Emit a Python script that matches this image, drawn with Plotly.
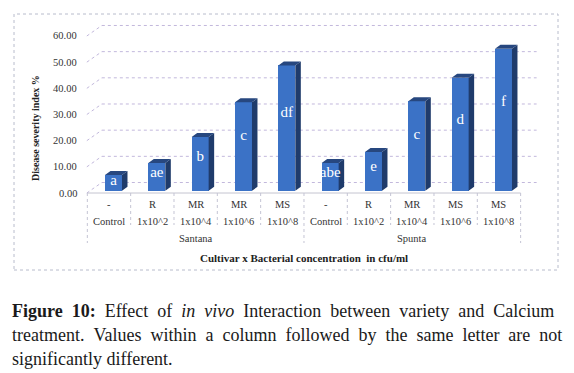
import plotly.graph_objects as go

# ---------------- data ----------------
groups = ["Santana", "Spunta"]
group_size = [5, 5]
resistance = ["-", "R", "MR", "MR", "MS", "-", "R", "MR", "MS", "MS"]
concentration = ["Control", "1x10^2", "1x10^4", "1x10^6", "1x10^8",
                 "Control", "1x10^2", "1x10^4", "1x10^6", "1x10^8"]
severity = [6.0, 10.6, 20.6, 33.8, 47.9, 10.6, 14.8, 34.2, 43.2, 54.3]
letters = ["a", "ae", "b", "c", "df", "abe", "e", "c", "d", "f"]
y_ticks = [0, 10, 20, 30, 40, 50, 60]
y_title = "Disease severity index %"
x_title = "Cultivar x Bacterial concentration  in cfu/ml"
caption_lines = [
    "<b>Figure 10:</b> Effect of <i>in vivo</i> Interaction between variety and Calcium",
    "treatment. Values within a column followed by the same letter are not",
    "significantly different.",
]
caption_justify = [True, True, False]

# ---------------- geometry (screen pixels) ----------------
SW, SH = 574, 373            # browser window
PAGE = 8                     # default page margin around the figure
W, H = SW - PAGE, SH - PAGE  # figure size
X0, CW = 87.33, 43.33        # left edge of first category, category width
Y0, PU = 193.0, 2.617        # front zero line, px per unit
DXB, DYB = 14.5, -10.5       # back-wall offset
DXBAR, DYBAR = 4.5, -2.2     # bar depth offset
BARW = 17.0                  # front face width
SDX, SDY = 5.5, -4.0         # side/top depth
n = len(severity)


def px2x(px):
    return (px - X0) / CW - 0.5


def py2y(py):
    return (Y0 - py) / PU


def pxp(px):
    return (px - PAGE) / W


def pyp(py):
    return (H - (py - PAGE)) / H


FONT = "Liberation Serif, Tinos, Times New Roman, DejaVu Serif, serif"
GRID = "#c2b8dc"

fig = go.Figure()

off = DXBAR / CW
bw = BARW / CW
base = -DYBAR / PU
sdx = SDX / CW
sdy = -SDY / PU

fig.add_trace(go.Bar(
    x=list(range(n)), y=severity, base=[base] * n,
    width=bw, offset=off - bw / 2,
    marker=dict(color="#3b72c6", line=dict(width=0)),
    hoverinfo="skip", showlegend=False,
))

side_x, side_y, top_x, top_y = [], [], [], []
for i, v in enumerate(severity):
    xl = i + off - bw / 2
    xr = i + off + bw / 2
    side_x += [xr, xr + sdx, xr + sdx, xr, xr, None]
    side_y += [base, base + sdy, base + v + sdy, base + v, base, None]
    top_x += [xl, xr, xr + sdx, xl + sdx, xl, None]
    top_y += [base + v, base + v, base + v + sdy, base + v + sdy, base + v, None]

fig.add_trace(go.Scatter(x=side_x, y=side_y, mode="lines", fill="toself",
                         fillcolor="#1f3b6b", line=dict(width=0, color="#1f3b6b"),
                         hoverinfo="skip", showlegend=False))
fig.add_trace(go.Scatter(x=top_x, y=top_y, mode="lines", fill="toself",
                         fillcolor="#27477f", line=dict(width=0, color="#27477f"),
                         hoverinfo="skip", showlegend=False))

fig.add_trace(go.Scatter(
    x=[i + off for i in range(n)],
    y=[base + 0.62 * v for v in severity],
    mode="text", text=letters,
    textfont=dict(family=FONT, size=15, color="white"),
    hoverinfo="skip", showlegend=False,
))

shapes = []
for t in y_ticks:
    yf = Y0 - t * PU
    shapes.append(dict(type="line", xref="x", yref="y", layer="below",
                       x0=px2x(X0 + DXB), x1=px2x(X0 + 10 * CW + DXB + 1.5),
                       y0=py2y(yf + DYB), y1=py2y(yf + DYB),
                       line=dict(color=GRID, width=1, dash="dot")))
    shapes.append(dict(type="line", xref="x", yref="y", layer="below",
                       x0=px2x(X0 - 0.5), x1=px2x(X0 + DXB),
                       y0=py2y(yf), y1=py2y(yf + DYB),
                       line=dict(color=GRID, width=1, dash="dot")))
shapes.append(dict(type="line", xref="x", yref="y", layer="below",
                   x0=-0.5, x1=n - 0.5, y0=0, y1=0,
                   line=dict(color="#c4c4d0", width=1)))
edges = [0]
for g in group_size:
    edges.append(edges[-1] + g)
for k in range(n + 1):
    bottom = 243 if k in edges else 225
    shapes.append(dict(type="line", xref="x", yref="y", layer="below",
                       x0=k - 0.5, x1=k - 0.5, y0=0, y1=py2y(bottom),
                       line=dict(color="#c4c4d4", width=1, dash="dot")))
shapes.append(dict(type="rect", xref="paper", yref="paper", layer="below",
                   x0=pxp(14), x1=pxp(558), y0=pyp(270), y1=pyp(14),
                   line=dict(color="#b8bccc", width=1, dash="dot")))

ann = []
TXT = "#333333"
for t in y_ticks:
    ann.append(dict(xref="paper", yref="y", x=pxp(79), y=t, xanchor="right",
                    yanchor="middle", text=f"{t:.2f}", showarrow=False,
                    font=dict(family=FONT, size=10.5, color=TXT)))
for i in range(n):
    ann.append(dict(xref="x", yref="paper", x=i, y=pyp(204.5), text=resistance[i],
                    showarrow=False, xanchor="center", yanchor="middle",
                    font=dict(family=FONT, size=10.5, color=TXT)))
    ann.append(dict(xref="x", yref="paper", x=i, y=pyp(221.5), text=concentration[i],
                    showarrow=False, xanchor="center", yanchor="middle",
                    font=dict(family=FONT, size=10.5, color=TXT)))
for g, name in enumerate(groups):
    center = (edges[g] + edges[g + 1] - 1) / 2
    ann.append(dict(xref="x", yref="paper", x=center, y=pyp(238.5), text=name,
                    showarrow=False, xanchor="center", yanchor="middle",
                    font=dict(family=FONT, size=10.5, color=TXT)))
ann.append(dict(xref="x", yref="paper", x=(n - 1) / 2, y=pyp(257.5),
                text=f"<b>{x_title}</b>", showarrow=False,
                xanchor="center", yanchor="middle",
                font=dict(family=FONT, size=11, color="#222")))
ann.append(dict(xref="paper", yref="paper", x=pxp(35), y=pyp(128),
                text=f"<b>{y_title}</b>", textangle=-90, showarrow=False,
                xanchor="center", yanchor="middle",
                font=dict(family=FONT, size=10, color="#222")))
for k, line in enumerate(caption_lines):
    txt = line.replace(" ", " \u00a0") if caption_justify[k] else line
    txt = txt.replace("<i>in \u00a0vivo</i>", "<i>in\u00a0 vivo</i>")
    ann.append(dict(xref="paper", yref="paper", x=pxp(10), y=pyp(311 + 24 * k),
                    text=txt, showarrow=False, xanchor="left", yanchor="middle",
                    font=dict(family=FONT, size=18, color="#1a1a1a")))

fig.update_layout(
    width=W, height=H, margin=dict(l=0, r=0, t=0, b=0),
    paper_bgcolor="white", plot_bgcolor="white",
    xaxis=dict(range=[px2x(PAGE), px2x(SW)], visible=False, domain=[0, 1], fixedrange=True),
    yaxis=dict(range=[py2y(SH), py2y(PAGE)], visible=False, domain=[0, 1], fixedrange=True),
    shapes=shapes, annotations=ann, bargap=0, showlegend=False,
)

fig.write_html("out.html")
